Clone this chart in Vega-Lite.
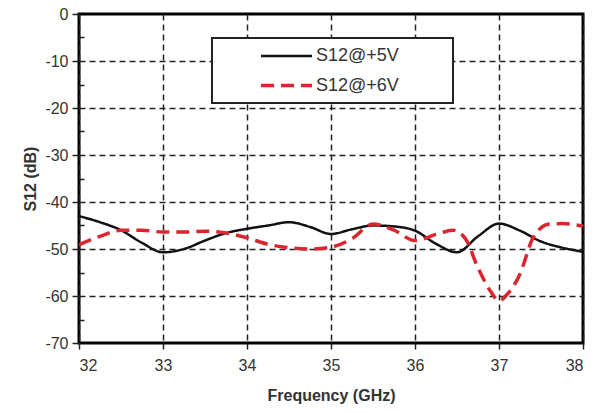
{
  "$schema": "https://vega.github.io/schema/vega-lite/v6.json",
  "width": 504,
  "height": 329,
  "autosize": "none",
  "padding": {"left": 79, "top": 14, "right": 15, "bottom": 70},
  "background": "white",
  "config": {
    "font": "Liberation Sans",
    "view": {"stroke": "black", "strokeWidth": 3}
  },
  "data": {
    "values": [
      {"f": 32.0, "s": -43.0, "series": "S12@+5V"},
      {"f": 32.25, "s": -44.3, "series": "S12@+5V"},
      {"f": 32.5, "s": -46.0, "series": "S12@+5V"},
      {"f": 32.75, "s": -48.7, "series": "S12@+5V"},
      {"f": 33.0, "s": -50.7, "series": "S12@+5V"},
      {"f": 33.25, "s": -50.0, "series": "S12@+5V"},
      {"f": 33.5, "s": -48.2, "series": "S12@+5V"},
      {"f": 33.75, "s": -46.6, "series": "S12@+5V"},
      {"f": 34.0, "s": -45.7, "series": "S12@+5V"},
      {"f": 34.25, "s": -45.0, "series": "S12@+5V"},
      {"f": 34.5, "s": -44.3, "series": "S12@+5V"},
      {"f": 34.75, "s": -45.3, "series": "S12@+5V"},
      {"f": 35.0, "s": -46.8, "series": "S12@+5V"},
      {"f": 35.25, "s": -45.8, "series": "S12@+5V"},
      {"f": 35.5, "s": -45.0, "series": "S12@+5V"},
      {"f": 35.75, "s": -45.2, "series": "S12@+5V"},
      {"f": 36.0, "s": -46.1, "series": "S12@+5V"},
      {"f": 36.25, "s": -48.9, "series": "S12@+5V"},
      {"f": 36.5, "s": -50.7, "series": "S12@+5V"},
      {"f": 36.75, "s": -47.3, "series": "S12@+5V"},
      {"f": 37.0, "s": -44.6, "series": "S12@+5V"},
      {"f": 37.25, "s": -46.1, "series": "S12@+5V"},
      {"f": 37.5, "s": -48.4, "series": "S12@+5V"},
      {"f": 37.75, "s": -49.7, "series": "S12@+5V"},
      {"f": 38.0, "s": -50.6, "series": "S12@+5V"},
      {"f": 32.0, "s": -49.1, "series": "S12@+6V"},
      {"f": 32.25, "s": -47.3, "series": "S12@+6V"},
      {"f": 32.5, "s": -46.0, "series": "S12@+6V"},
      {"f": 32.75, "s": -46.0, "series": "S12@+6V"},
      {"f": 33.0, "s": -46.4, "series": "S12@+6V"},
      {"f": 33.25, "s": -46.4, "series": "S12@+6V"},
      {"f": 33.5, "s": -46.2, "series": "S12@+6V"},
      {"f": 33.75, "s": -46.6, "series": "S12@+6V"},
      {"f": 34.0, "s": -47.6, "series": "S12@+6V"},
      {"f": 34.25, "s": -49.0, "series": "S12@+6V"},
      {"f": 34.5, "s": -49.7, "series": "S12@+6V"},
      {"f": 34.75, "s": -50.0, "series": "S12@+6V"},
      {"f": 35.0, "s": -49.6, "series": "S12@+6V"},
      {"f": 35.25, "s": -47.8, "series": "S12@+6V"},
      {"f": 35.5, "s": -44.7, "series": "S12@+6V"},
      {"f": 35.75, "s": -46.0, "series": "S12@+6V"},
      {"f": 36.0, "s": -48.2, "series": "S12@+6V"},
      {"f": 36.25, "s": -46.9, "series": "S12@+6V"},
      {"f": 36.45, "s": -46.0, "series": "S12@+6V"},
      {"f": 36.6, "s": -47.8, "series": "S12@+6V"},
      {"f": 36.75, "s": -54.0, "series": "S12@+6V"},
      {"f": 36.9, "s": -59.0, "series": "S12@+6V"},
      {"f": 37.0, "s": -61.0, "series": "S12@+6V"},
      {"f": 37.1, "s": -59.6, "series": "S12@+6V"},
      {"f": 37.25, "s": -55.3, "series": "S12@+6V"},
      {"f": 37.4, "s": -47.8, "series": "S12@+6V"},
      {"f": 37.5, "s": -45.5, "series": "S12@+6V"},
      {"f": 37.6, "s": -44.7, "series": "S12@+6V"},
      {"f": 37.75, "s": -44.6, "series": "S12@+6V"},
      {"f": 38.0, "s": -45.1, "series": "S12@+6V"}
    ]
  },
  "mark": {"type": "line", "interpolate": "monotone", "clip": true},
  "encoding": {
    "x": {
      "field": "f",
      "type": "quantitative",
      "scale": {"domain": [32, 38], "nice": false},
      "axis": {
        "title": "Frequency (GHz)",
        "values": [32, 33, 34, 35, 36, 37, 38],
        "format": "d",
        "domain": false,
        "grid": true,
        "gridColor": "#222",
        "gridDash": [6, 4],
        "gridWidth": 1.5,
        "gridOpacity": 1,
        "ticks": true,
        "tickColor": "#222",
        "tickSize": 6,
        "tickWidth": 1.5,
        "labelFont": "Liberation Sans",
        "labelFontSize": 16,
        "labelColor": "#333",
        "labelPadding": 8,
        "titleFont": "Liberation Sans",
        "titleFontSize": 16,
        "titleFontWeight": "bold",
        "titleColor": "#333",
        "titlePadding": 14
      }
    },
    "y": {
      "field": "s",
      "type": "quantitative",
      "scale": {"domain": [-70, 0], "nice": false},
      "axis": {
        "title": "S12 (dB)",
        "values": [-70, -65, -60, -55, -50, -45, -40, -35, -30, -25, -20, -15, -10, -5, 0],
        "labelExpr": "datum.value % 10 === 0 ? toString(datum.value) : ''",
        "domain": false,
        "grid": true,
        "gridColor": "#222",
        "gridDash": [6, 4],
        "gridWidth": 1.5,
        "gridOpacity": {"condition": {"test": "datum.value % 10 === 0 && datum.value > -70 && datum.value < 0", "value": 1}, "value": 0},
        "ticks": true,
        "tickColor": "#222",
        "tickWidth": 1.5,
        "tickSize": {"condition": {"test": "datum.value % 10 === 0", "value": 7}, "value": -5},
        "labelFont": "Liberation Sans",
        "labelFontSize": 16,
        "labelColor": "#333",
        "labelPadding": 4,
        "titleFont": "Liberation Sans",
        "titleFontSize": 16,
        "titleFontWeight": "bold",
        "titleColor": "#333",
        "titlePadding": 6
      }
    },
    "color": {
      "field": "series",
      "type": "nominal",
      "scale": {"domain": ["S12@+5V", "S12@+6V"], "range": ["#111111", "#d9262f"]},
      "legend": {
        "title": ".",
        "titleOrient": "right",
        "titleOpacity": 0,
        "titleFontSize": 2,
        "titlePadding": 45,
        "orient": "none",
        "legendX": 133,
        "legendY": 24,
        "direction": "vertical",
        "strokeColor": "#222",
        "fillColor": "white",
        "padding": 8,
        "symbolType": "M-3,0H3",
        "symbolSize": 289,
        "symbolOffset": 56,
        "labelOffset": 19,
        "rowPadding": 10,
        "labelLimit": 400,
        "labelFont": "Liberation Sans",
        "labelFontSize": 18,
        "labelColor": "#333",
        "encode": {"legend": {"update": {"strokeWidth": {"value": 2}}}}
      }
    },
    "strokeDash": {
      "field": "series",
      "type": "nominal",
      "scale": {"domain": ["S12@+5V", "S12@+6V"], "range": [[1, 0], [13, 7]]},
      "legend": null
    },
    "strokeWidth": {
      "field": "series",
      "type": "nominal",
      "scale": {"domain": ["S12@+5V", "S12@+6V"], "range": [2.5, 3.5]},
      "legend": null
    }
  }
}
